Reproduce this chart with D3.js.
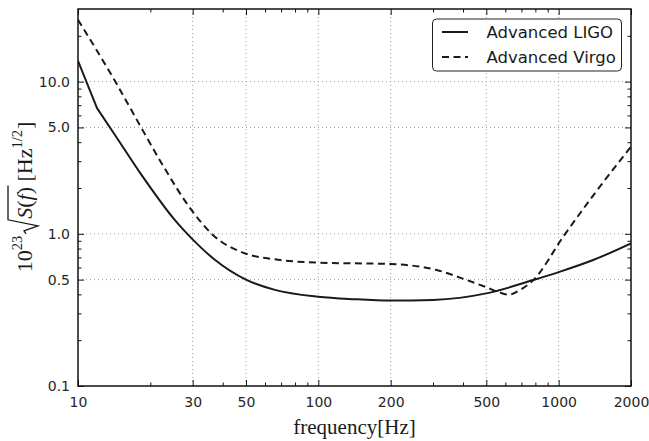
<!DOCTYPE html>
<html><head><meta charset="utf-8">
<script src="https://cdn.jsdelivr.net/npm/d3@7"></script>
<style>body{margin:0;background:#fff}</style>
</head><body><svg id="c" width="649" height="441"></svg>
<script>
const ligoFreq = [10, 12, 14.25, 18.4, 25.3, 29.7, 37.2, 50, 66, 100, 140, 200, 300, 500, 785, 1000, 1400, 2000];
const ligoAsd  = [13.7, 6.7, 4.46, 2.43, 1.23, 0.933, 0.673, 0.5, 0.428, 0.386, 0.372, 0.364, 0.368, 0.406, 0.497, 0.56, 0.675, 0.866];
const virgoFreq = [10, 14.3, 18.4, 22.3, 29.7, 36, 50, 66, 100, 200, 311, 414, 501, 560, 620, 690, 785, 1046, 1441, 2000];
const virgoAsd  = [25.5, 10, 4.93, 2.9, 1.43, 1.0, 0.74, 0.68, 0.646, 0.633, 0.578, 0.497, 0.445, 0.415, 0.398, 0.427, 0.497, 0.96, 1.92, 3.74];
const seriesNames = ["Advanced LIGO", "Advanced Virgo"];
const xMajorTicks = [10, 30, 50, 100, 200, 500, 1000, 2000];
const xTickLabels = ["10", "30", "50", "100", "200", "500", "1000", "2000"];
const xMinorTicks = [20, 40, 60, 70, 80, 90, 300, 400, 600, 700, 800, 900];
const yMajorTicks = [0.1, 0.5, 1, 5, 10];
const yTickLabels = ["0.1", "0.5", "1.0", "5.0", "10.0"];
const yMinorTicks = [0.2, 0.3, 0.4, 0.6, 0.7, 0.8, 0.9, 2, 3, 4, 6, 7, 8, 9, 20];
const xGrid = [30, 50, 100, 200, 500, 1000];
const yGrid = [0.5, 1, 5, 10];

const L = 78, R = 631, T = 9, B = 386;
const svg = d3.select("#c");
const x = d3.scaleLog().domain([10, 2000]).range([L, R]);
const y = d3.scaleLog().domain([0.1, 30]).range([B, T]);
const sans = "'DejaVu Sans', sans-serif";
const serif = "'Liberation Serif','DejaVu Serif',serif";

// grid
const grid = svg.append("g").attr("stroke", "#9a9a9a").attr("stroke-width", 1).attr("stroke-dasharray", "1,3");
grid.selectAll(".gx").data(xGrid).join("line").attr("x1", d => x(d)).attr("x2", d => x(d)).attr("y1", T).attr("y2", B);
grid.selectAll(".gy").data(yGrid).join("line").attr("y1", d => y(d)).attr("y2", d => y(d)).attr("x1", L).attr("x2", R);

function styleAxis(g) {
  g.select(".domain").remove();
  g.selectAll(".tick line").attr("stroke", "#111").attr("stroke-width", 1);
  g.selectAll(".tick text").attr("fill", "#262626").style("font-family", sans).style("font-size", "14px");
}
svg.append("g").attr("transform", `translate(0,${B})`)
  .call(d3.axisBottom(x).tickValues(xMajorTicks).tickFormat((d, i) => xTickLabels[i]).tickSize(-6).tickPadding(11))
  .call(styleAxis);
svg.append("g").attr("transform", `translate(0,${B})`)
  .call(d3.axisBottom(x).tickValues(xMinorTicks).tickFormat("").tickSize(-3.5)).call(styleAxis);
svg.append("g").attr("transform", `translate(0,${T})`)
  .call(d3.axisTop(x).tickValues(xMajorTicks).tickFormat("").tickSize(-6)).call(styleAxis);
svg.append("g").attr("transform", `translate(0,${T})`)
  .call(d3.axisTop(x).tickValues(xMinorTicks).tickFormat("").tickSize(-3.5)).call(styleAxis);
svg.append("g").attr("transform", `translate(${L},0)`)
  .call(d3.axisLeft(y).tickValues(yMajorTicks).tickFormat((d, i) => yTickLabels[i]).tickSize(-6).tickPadding(8))
  .call(styleAxis);
svg.append("g").attr("transform", `translate(${L},0)`)
  .call(d3.axisLeft(y).tickValues(yMinorTicks).tickFormat("").tickSize(-3.5)).call(styleAxis);
svg.append("g").attr("transform", `translate(${R},0)`)
  .call(d3.axisRight(y).tickValues(yMajorTicks).tickFormat("").tickSize(-6)).call(styleAxis);
svg.append("g").attr("transform", `translate(${R},0)`)
  .call(d3.axisRight(y).tickValues(yMinorTicks).tickFormat("").tickSize(-3.5)).call(styleAxis);

// curves
svg.append("clipPath").attr("id", "clip").append("rect").attr("x", L).attr("y", T).attr("width", R - L).attr("height", B - T);
const smooth = d3.line().x(d => x(d[0])).y(d => y(d[1])).curve(d3.curveMonotoneX);
const straight = d3.line().x(d => x(d[0])).y(d => y(d[1]));
const ligo = ligoFreq.map((f, i) => [f, ligoAsd[i]]);
const virgo = virgoFreq.map((f, i) => [f, virgoAsd[i]]);
const curves = svg.append("g").attr("clip-path", "url(#clip)").attr("fill", "none").attr("stroke", "#1a1a1a")
  .attr("stroke-width", 2).attr("stroke-linejoin", "round");
// LIGO: straight first segment (visible kink at 12 Hz), smooth afterwards
curves.append("path").attr("d", straight(ligo.slice(0, 2)) + smooth(ligo.slice(1)).replace(/^M/, "L"));
curves.append("path").attr("d", smooth(virgo)).attr("stroke-dasharray", "7,4.5");

// frame
svg.append("rect").attr("x", L).attr("y", T).attr("width", R - L).attr("height", B - T)
  .attr("fill", "none").attr("stroke", "#111").attr("stroke-width", 1.5);

// legend
const lg = svg.append("g");
lg.append("rect").attr("x", 432.5).attr("y", 19).attr("width", 189).attr("height", 52).attr("rx", 4)
  .attr("fill", "#fff").attr("stroke", "#222").attr("stroke-width", 1);
const rowsY = [32, 57];
seriesNames.forEach((name, i) => {
  lg.append("line").attr("x1", 442).attr("x2", 468).attr("y1", rowsY[i]).attr("y2", rowsY[i])
    .attr("stroke", "#1a1a1a").attr("stroke-width", 2).attr("stroke-dasharray", i === 1 ? "7,4.5" : null);
  lg.append("text").attr("x", 486.5).attr("y", rowsY[i] + 5.5).text(name)
    .style("font-family", sans).style("font-size", "16.5px").attr("fill", "#1a1a1a");
});

// x label
svg.append("text").attr("x", (L + R) / 2).attr("y", 434).attr("text-anchor", "middle")
  .style("font-family", serif).style("font-size", "21px").attr("fill", "#1a1a1a").text("frequency[Hz]");

// y label
const ylOuter = svg.append("g").attr("transform", "translate(32,197) rotate(-90)");
const yl = ylOuter.append("g");
let pos = 0;
function piece(txt, size, dy, italic) {
  const t = yl.append("text").attr("x", pos).attr("y", dy).style("font-family", serif)
    .style("font-size", size + "px").style("font-style", italic ? "italic" : "normal").attr("fill", "#1a1a1a").text(txt);
  pos += t.node().getComputedTextLength();
  return t;
}
piece("10", 22, 0);
piece("23", 14.5, -10);
pos += 2;
const r0 = pos;
pos += 15;
piece("S", 22, 0, true);
piece("(", 22, 0);
piece("f", 22, 0, true);
piece(")", 22, 0);
pos += 1.5;
const r1 = pos;
yl.append("path").attr("d", `M${r0},-6 L${r0 + 3},-8 L${r0 + 8},6 L${r0 + 14},-24 L${r1},-24`)
  .attr("fill", "none").attr("stroke", "#1a1a1a").attr("stroke-width", 1.3);
pos += 4;
piece("[Hz", 22, 0);
piece("1/2", 14.5, -10);
pos += 1;
piece("]", 22, 0);
yl.attr("transform", `translate(${-pos / 2},0)`);
</script></body></html>
